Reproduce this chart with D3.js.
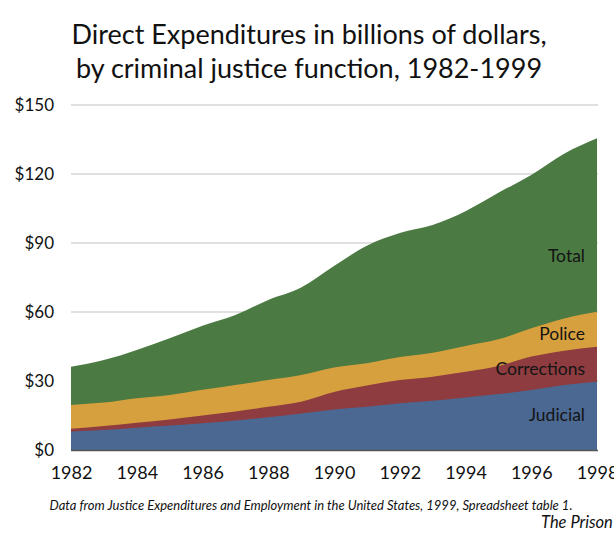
<!DOCTYPE html>
<html>
<head>
<meta charset="utf-8">
<script src="https://d3js.org/d3.v7.min.js"></script>
<style>
  body { margin: 0; background: #fff; }
  text { font-family: Lato, "Open Sans", sans-serif; fill: #111; }
</style>
</head>
<body>
<script>
// years on the axis
var years = [1982,1983,1984,1985,1986,1987,1988,1989,1990,1991,1992,1993,1994,1995,1996,1997,1998];
var yearTicks = [1982,1984,1986,1988,1990,1992,1994,1996,1998];
var valueTicks = [0,30,60,90,120,150];

// billions of dollars, each series drawn from zero (overlapping areas)
var total       = [36.2,39.1,43.5,48.6,54.0,58.7,65.2,70.6,80.0,88.8,94.3,97.8,103.8,111.8,119.6,128.8,135.5];
var police      = [19.6,20.6,22.5,23.9,26.2,28.3,30.4,32.6,35.9,37.7,40.4,42.3,45.2,48.1,52.9,57.2,60.1];
var corrections = [9.2,10.4,11.9,13.3,15.0,16.7,18.8,21.0,25.2,28.0,30.4,31.9,34.0,36.5,40.6,43.2,44.9];
var judicial    = [8.0,8.7,9.7,10.6,11.6,12.8,14.2,15.9,17.6,18.8,20.3,21.4,22.8,24.3,26.1,28.3,29.7];

var names  = ["Total","Police","Corrections","Judicial"];
var colors = ["#4b7a42","#d7a03e","#8e3c40","#4a6892"];
var seriesList = [total, police, corrections, judicial];

var width = 614, height = 533;
var plotLeft = 71, plotRight = 597, plotTop = 105, plotBottom = 450;

var svg = d3.select("body").append("svg")
  .attr("width", width)
  .attr("height", height);

var x = d3.scaleLinear().domain([1982,1998]).range([plotLeft,plotRight]);
var y = d3.scaleLinear().domain([0,150]).range([plotBottom,plotTop]);

// title
var title = svg.append("text")
  .attr("text-anchor", "middle")
  .style("font-size", "27px");
title.append("tspan").attr("x",309).attr("y",44).text("Direct Expenditures in billions of dollars,");
title.append("tspan").attr("x",309).attr("y",78).text("by criminal justice function, 1982-1999");

// gridlines
svg.append("g").selectAll("line")
  .data(valueTicks.slice(1))
  .enter().append("line")
  .attr("x1", plotLeft).attr("x2", plotRight + 1)
  .attr("y1", function(d){ return y(d); })
  .attr("y2", function(d){ return y(d); })
  .attr("stroke", "#d6d6d6")
  .attr("stroke-width", 1.5);

// areas
var area = d3.area()
  .curve(d3.curveMonotoneX)
  .x(function(d,i){ return x(years[i]); })
  .y0(y(0))
  .y1(function(d){ return y(d); });

svg.append("g").selectAll("path")
  .data(seriesList)
  .enter().append("path")
  .attr("d", area)
  .attr("fill", function(d,i){ return colors[i]; });

// series labels
var labelY = [262, 340, 375, 421];
svg.append("g").selectAll("text")
  .data(names)
  .enter().append("text")
  .attr("x", 585)
  .attr("y", function(d,i){ return labelY[i]; })
  .attr("text-anchor", "end")
  .style("font-size", "17.5px")
  .style("fill", "#141414")
  .text(function(d){ return d; });

// baseline
svg.append("line")
  .attr("x1", plotLeft).attr("x2", plotRight + 1)
  .attr("y1", plotBottom + 0.5).attr("y2", plotBottom + 0.5)
  .attr("stroke", "#555")
  .attr("stroke-width", 1.5);

// y axis
var yAxis = d3.axisLeft(y)
  .tickValues(valueTicks)
  .tickSize(0)
  .tickPadding(0)
  .tickFormat(function(d){ return "$" + d; });
var gy = svg.append("g").attr("transform", "translate(54,0)").call(yAxis);
gy.select(".domain").remove();
gy.selectAll("text").style("font-size","17px").attr("font-family", null);

// x axis
var xAxis = d3.axisBottom(x)
  .tickValues(yearTicks)
  .tickSize(0)
  .tickPadding(0)
  .tickFormat(d3.format("d"));
var gx = svg.append("g").attr("transform", "translate(0,466)").call(xAxis);
gx.select(".domain").remove();
gx.selectAll("text").style("font-size","18px").attr("font-family", null);

// notes
svg.append("text")
  .attr("x", 311).attr("y", 510)
  .attr("text-anchor", "middle")
  .style("font-size", "13px")
  .style("font-style", "italic")
  .text("Data from Justice Expenditures and Employment in the United States, 1999, Spreadsheet table 1.");

svg.append("text")
  .attr("x", 541).attr("y", 528)
  .style("font-size", "16.5px")
  .style("font-style", "italic")
  .text("The Prison Policy Initiative");
</script>
</body>
</html>
